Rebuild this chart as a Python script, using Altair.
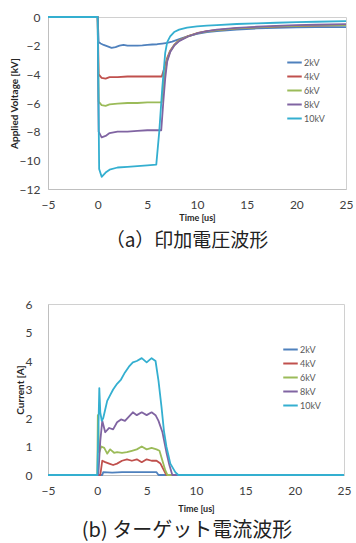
import altair as alt
import pandas as pd

series = ["2kV", "4kV", "6kV", "8kV", "10kV"]
colors = ["#4F81BD", "#C0504D", "#9BBB59", "#8064A2", "#34AFD0"]

x_ticks = [-5, 0, 5, 10, 15, 20, 25]
v_ticks = [-12, -10, -8, -6, -4, -2, 0]
i_ticks = [0, 1, 2, 3, 4, 5, 6]

caption_a = "（a）印加電圧波形"
caption_b = "(b) ターゲット電流波形"

# ---- (a) applied voltage [kV] vs time [us]
v2_t = [-5, 0.0, 0.1, 0.3, 0.6, 1.0, 1.4, 1.8, 2.2, 2.6, 3.0, 3.5, 4.0, 4.5, 5.0, 5.5, 6.0, 6.5, 7.0, 7.5, 8.0, 8.5, 9, 10, 11, 12, 14, 16, 18, 20, 22, 25]
v2_v = [0, 0, -1.75, -1.85, -1.95, -2.05, -2.15, -2.1, -2.0, -1.95, -2.0, -2.0, -2.0, -1.98, -1.95, -1.92, -1.9, -1.85, -1.8, -1.72, -1.6, -1.48, -1.36, -1.18, -1.06, -0.98, -0.88, -0.8, -0.76, -0.73, -0.71, -0.7]

v4_t = [-5, 0.0, 0.1, 0.4, 0.8, 1.2, 2, 3, 4, 5, 6, 6.45, 6.7, 7.0, 7.3, 7.7, 8.2, 9.1, 10.1, 11, 12, 14, 16, 18, 20, 22, 25]
v4_v = [0, 0, -4.0, -4.25, -4.3, -4.2, -4.2, -4.15, -4.15, -4.15, -4.15, -4.15, -3.6, -2.85, -2.35, -1.95, -1.62, -1.33, -1.1, -0.99, -0.91, -0.8, -0.72, -0.67, -0.63, -0.6, -0.57]

v6_t = [-5, 0.0, 0.1, 0.4, 0.8, 1.2, 2, 3, 4, 5, 6, 6.45, 6.7, 7.0, 7.3, 7.7, 8.2, 9.1, 10.1, 11, 12, 14, 16, 18, 20, 22, 25]
v6_v = [0, 0, -5.9, -6.15, -6.2, -6.1, -6.05, -6.0, -6.0, -5.95, -5.95, -5.95, -4.2, -3.0, -2.4, -1.97, -1.64, -1.35, -1.12, -1.0, -0.92, -0.8, -0.72, -0.66, -0.62, -0.59, -0.56]

v8_t = [-5, 0.0, 0.1, 0.4, 0.8, 1.2, 1.6, 2, 3, 4, 5, 6, 6.4, 6.6, 6.8, 7.0, 7.3, 7.7, 8.2, 9.1, 10.1, 11, 12, 14, 16, 18, 20, 22, 25]
v8_v = [0, 0, -8.0, -8.4, -8.3, -8.1, -8.05, -8.0, -8.0, -7.95, -7.9, -7.9, -7.9, -6.0, -4.3, -3.1, -2.45, -2.0, -1.68, -1.36, -1.12, -0.98, -0.88, -0.76, -0.68, -0.62, -0.57, -0.54, -0.5]

v10_t = [-5, 0.0, 0.15, 0.4, 0.8, 1.2, 2, 3, 4, 5, 5.9, 6.2, 6.5, 6.8, 7.0, 7.3, 7.7, 8.2, 9, 10, 11, 12, 14, 16, 18, 20, 22, 25]
v10_v = [0, 0, -10.6, -11.15, -10.85, -10.65, -10.5, -10.45, -10.4, -10.35, -10.3, -8.0, -5.0, -2.5, -1.75, -1.35, -1.05, -0.88, -0.74, -0.66, -0.6, -0.56, -0.49, -0.44, -0.4, -0.36, -0.33, -0.29]

# ---- (b) target current [A] vs time [us]
i2_t = [-5, 0.5, 0.6, 1.5, 2.5, 3.5, 4.5, 5.5, 6.0, 6.2, 25]
i2_v = [0, 0, 0.1, 0.08, 0.1, 0.1, 0.1, 0.1, 0.1, 0, 0]

i4_t = [-5, 0.3, 0.5, 0.8, 1.2, 1.6, 2.0, 2.5, 3.0, 3.5, 4.0, 4.5, 5.0, 5.5, 6.0, 6.4, 6.7, 7.0, 25]
i4_v = [0, 0, 0.5, 0.45, 0.4, 0.35, 0.4, 0.5, 0.55, 0.5, 0.55, 0.45, 0.55, 0.5, 0.5, 0.4, 0.2, 0, 0]

i6_t = [-5, 0.0, 0.05, 0.2, 0.4, 0.7, 1.0, 1.3, 1.7, 2.0, 2.5, 3.0, 3.5, 4.0, 4.5, 5.0, 5.5, 6.0, 6.3, 6.6, 6.9, 7.1, 25]
i6_v = [0, 0, 2.1, 0.8, 1.0, 0.95, 0.75, 0.9, 0.78, 0.8, 0.78, 0.8, 0.85, 0.9, 1.0, 0.9, 0.95, 0.9, 0.85, 0.5, 0.15, 0, 0]

i8_t = [-5, 0.1, 0.3, 0.5, 0.8, 1.2, 1.6, 2.0, 2.4, 2.8, 3.2, 3.6, 4.0, 4.5, 5.0, 5.5, 5.9, 6.2, 6.6, 7.0, 7.3, 7.6, 25]
i8_v = [0, 0, 1.2, 1.9, 1.5, 1.65, 1.6, 1.85, 1.95, 1.9, 2.05, 2.2, 2.1, 2.2, 2.1, 2.2, 2.1, 1.9, 1.5, 0.8, 0.35, 0, 0]

i10_t = [-5, 0.0, 0.1, 0.2, 0.3, 0.45, 0.6, 0.8, 1.0, 1.3, 1.6, 2.0, 2.4, 2.8, 3.2, 3.6, 4.0, 4.5, 5.0, 5.5, 5.9, 6.2, 6.5, 6.75, 7.0, 7.4, 7.9, 8.2, 25]
i10_v = [0, 0, 1.5, 3.05, 2.2, 1.9, 2.0, 2.3, 2.6, 2.8, 3.0, 3.2, 3.35, 3.6, 3.8, 3.95, 4.0, 4.1, 3.95, 4.1, 4.0, 3.3, 2.4, 1.55, 1.0, 0.4, 0.1, 0, 0]


def long_df(pairs):
    frames = []
    for k, (ts, vs) in enumerate(pairs):
        frames.append(pd.DataFrame({"t": ts, "v": vs, "s": series[k], "k": k}))
    return pd.concat(frames, ignore_index=True)


top_df = long_df([(v2_t, v2_v), (v4_t, v4_v), (v6_t, v6_v), (v8_t, v8_v), (v10_t, v10_v)])
bot_df = long_df([(i2_t, i2_v), (i4_t, i4_v), (i6_t, i6_v), (i8_t, i8_v), (i10_t, i10_v)])

FONT = "Lato"
LABEL_COLOR = "#404040"
GRID = "#bfbfbf"


def legend(x, y):
    return alt.Legend(orient="none", legendX=x, legendY=y, title=None,
                      symbolType="stroke", symbolSize=210, symbolStrokeWidth=2,
                      labelFont=FONT, labelFontSize=9, labelColor="#595959",
                      rowPadding=0, labelOffset=1, padding=0)


def panel(df, ydom, yticks, ytitle, ytitle_x, ylabpad, xtitle_y, w, h, leg_x, leg_y, cap, cap_y, cap_size):
    lines = alt.Chart(df).mark_line(strokeWidth=1.8, strokeJoin="round").encode(
        x=alt.X("t:Q", scale=alt.Scale(domain=[-5, 25], nice=False),
                axis=alt.Axis(values=x_ticks, title="Time  [us]", ticks=False, tickSize=0,
                              labelFlush=False,
                              labelPadding=10, labelFontSize=12, labelFont=FONT, labelColor=LABEL_COLOR,
                              titleFont=FONT, titleFontSize=9, titleFontWeight="bold", titleColor="#262626",
                              titleY=xtitle_y, titleBaseline="middle",
                              domainColor=GRID, grid=False)),
        y=alt.Y("v:Q", scale=alt.Scale(domain=ydom, nice=False),
                axis=alt.Axis(values=yticks, title=ytitle, ticks=False, tickSize=0,
                              labelPadding=ylabpad, labelFontSize=12, labelFont=FONT, labelColor=LABEL_COLOR,
                              titleFont=FONT, titleFontSize=10, titleFontWeight="bold", titleColor="#262626",
                              titleX=ytitle_x, titleBaseline="middle",
                              domainColor=GRID, grid=False)),
        color=alt.Color("s:N", sort=series, scale=alt.Scale(domain=series, range=colors),
                        legend=legend(leg_x, leg_y)),
        order=alt.Order("t:Q"),
    )
    text = alt.Chart(pd.DataFrame({"c": [cap]})).mark_text(
        font="Noto Sans CJK JP", fontSize=cap_size, align="center", baseline="middle", color="#222222"
    ).encode(x=alt.value(139), y=alt.value(cap_y), text="c:N")
    return alt.layer(lines, text).properties(width=w, height=h)


top = panel(top_df, [-12, 0], v_ticks, "Applied Voltage [kV]", -34, 8, 28, 298, 172, 238, 37,
            caption_a, 172 + 52, 19)
bottom = panel(bot_df, [0, 6], i_ticks, "Current [A]", -28, 16, 33, 296, 171, 234, 37,
               caption_b, 171 + 56, 20)

chart = alt.vconcat(top, bottom, spacing=115, bounds="flush").resolve_scale(
    color="independent").resolve_legend(color="independent").properties(
    padding={"left": 8, "top": 10, "right": 2, "bottom": 4},
    background="white",
).configure_view(stroke="#d0d0d0", strokeWidth=1)

chart.save("out.html", embed_options={"renderer": "svg", "actions": False})
